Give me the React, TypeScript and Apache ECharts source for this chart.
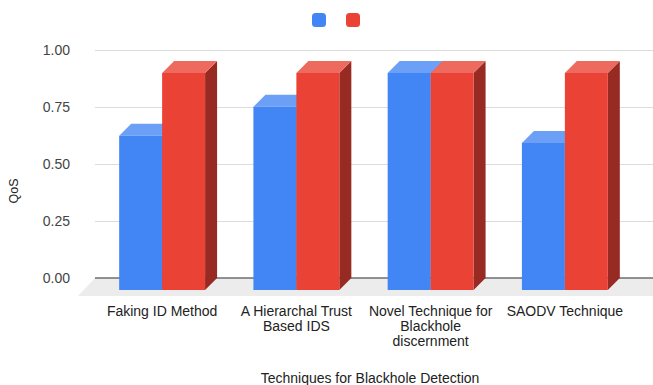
import React, { useEffect, useRef } from "react";
import * as echarts from "echarts";

const categories = [
  "Faking ID Method",
  "A Hierarchal Trust\nBased IDS",
  "Novel Technique for\nBlackhole\ndiscernment",
  "SAODV Technique",
];
const seriesBlue = [0.64, 0.76, 0.9, 0.61];
const seriesRed = [0.9, 0.9, 0.9, 0.9];
const yTicks = [0, 0.25, 0.5, 0.75, 1];
const xTitle = "Techniques for Blackhole Detection";
const yTitle = "QoS";

const FONT = '"Liberation Sans", Arial, sans-serif';
const DEPTH_X = 12;
const DEPTH_Y = 12;
const PERSP = 241 / 228;

function barRenderer(offsetSign: number, colors: { front: string; top: string; side: string }) {
  return (params: any, api: any) => {
    const idx = api.value(0);
    const val = api.value(1);
    const base = api.coord([idx, 0]);
    const top = api.coord([idx, val]);
    const band = api.size([1, 0])[0];
    const w = band * 0.32;
    const cx = base[0];
    const x0 = offsetSign < 0 ? cx - w : cx;
    const x1 = x0 + w;
    const yb = base[1] + DEPTH_Y;
    const yt = yb - (base[1] - top[1]) * PERSP;
    return {
      type: "group",
      children: [
        {
          type: "polygon",
          shape: { points: [[x1, yt], [x1 + DEPTH_X, yt - DEPTH_Y], [x1 + DEPTH_X, yb - DEPTH_Y], [x1, yb]] },
          style: { fill: colors.side },
        },
        {
          type: "polygon",
          shape: { points: [[x0, yt], [x0 + DEPTH_X, yt - DEPTH_Y], [x1 + DEPTH_X, yt - DEPTH_Y], [x1, yt]] },
          style: { fill: colors.top },
        },
        {
          type: "rect",
          shape: { x: x0, y: yt, width: w, height: yb - yt },
          style: { fill: colors.front },
        },
      ],
    };
  };
}

export default function App() {
  const ref = useRef<HTMLDivElement>(null);
  useEffect(() => {
    if (!ref.current) return;
    const chart = echarts.init(ref.current, undefined, { renderer: "svg" });
    const blue = { front: "#4285f4", top: "#6ca0f7", side: "#2f5fb3" };
    const red = { front: "#ea4335", top: "#ee6a5f", side: "#972a22" };
    chart.setOption({
      animation: false,
      textStyle: { fontFamily: FONT },
      legend: {
        left: 307,
        top: 8,
        itemWidth: 14,
        itemHeight: 14,
        itemGap: 20,
        icon: "roundRect",
        formatter: () => "",
        data: [
          { name: "Series 1", itemStyle: { color: blue.front } },
          { name: "Series 2", itemStyle: { color: red.front } },
        ],
        selectedMode: false,
      },
      grid: [
        { left: 95, right: 0, top: 50, bottom: 107 },
        { left: 95, width: 537, top: 50, bottom: 107 },
      ],
      xAxis: [
        { type: "value", gridIndex: 0, min: 0, max: 1, show: false },
        {
          type: "category",
          gridIndex: 1,
          data: categories,
          axisLine: { show: false },
          axisTick: { show: false },
          axisLabel: {
            color: "#222",
            fontSize: 14,
            lineHeight: 15,
            margin: 25,
            interval: 0,
            fontFamily: FONT,
          },
        },
      ],
      yAxis: [
        {
          type: "value",
          gridIndex: 0,
          min: 0,
          max: 1,
          interval: 0.25,
          axisLine: { show: false },
          axisTick: { show: false },
          splitLine: { lineStyle: { color: "#dcdcdc", width: 1 } },
          axisLabel: {
            color: "#444",
            fontSize: 14,
            margin: 25,
            fontFamily: FONT,
            formatter: (v: number) => (yTicks.includes(v) ? v.toFixed(2) : ""),
          },
        },
        { type: "value", gridIndex: 1, min: 0, max: 1, show: false },
      ],
      graphic: [
        {
          type: "text",
          x: 370,
          y: 378,
          style: {
            text: xTitle,
            align: "center",
            verticalAlign: "middle",
            fill: "#222",
            fontSize: 14,
            fontFamily: FONT,
          },
        },
        {
          type: "text",
          x: 14,
          y: 191,
          rotation: Math.PI / 2,
          style: {
            text: yTitle,
            align: "center",
            verticalAlign: "middle",
            fill: "#222",
            fontSize: 12.5,
            fontFamily: FONT,
          },
        },
      ],
      series: [
        {
          type: "custom",
          name: "floor",
          xAxisIndex: 0,
          yAxisIndex: 0,
          z: 1,
          silent: true,
          data: [[0, 0]],
          renderItem: (params: any, api: any) => {
            const bl = api.coord([0, 0]);
            const br = api.coord([1, 0]);
            return {
              type: "group",
              children: [
                {
                  type: "polygon",
                  shape: {
                    points: [
                      [bl[0], bl[1]],
                      [br[0], br[1]],
                      [br[0], br[1] + 18],
                      [bl[0] - 17, bl[1] + 18],
                    ],
                  },
                  style: { fill: "#ececec" },
                },
                {
                  type: "line",
                  shape: { x1: bl[0], y1: bl[1], x2: br[0], y2: br[1] },
                  style: { stroke: "#6e6e6e", lineWidth: 1.5 },
                },
              ],
            };
          },
        },
        {
          type: "custom",
          name: "Series 1",
          xAxisIndex: 1,
          yAxisIndex: 1,
          z: 2,
          itemStyle: { color: blue.front },
          data: seriesBlue.map((v, i) => [i, v]),
          renderItem: barRenderer(-1, blue),
        },
        {
          type: "custom",
          name: "Series 2",
          xAxisIndex: 1,
          yAxisIndex: 1,
          z: 3,
          itemStyle: { color: red.front },
          data: seriesRed.map((v, i) => [i, v]),
          renderItem: barRenderer(1, red),
        },
      ],
    });
    return () => chart.dispose();
  }, []);
  return (
    <div
      ref={ref}
      style={{ position: "fixed", left: 0, top: 0, width: 653, height: 385, background: "#fff" }}
    />
  );
}
